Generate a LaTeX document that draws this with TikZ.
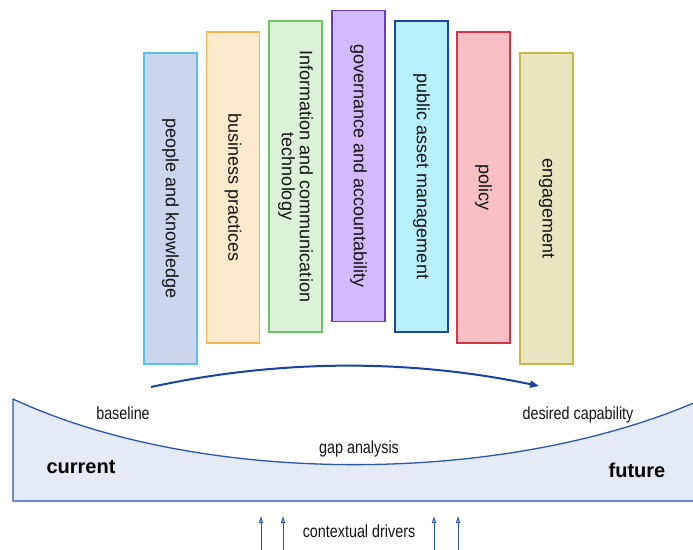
\documentclass[tikz,border=0pt]{standalone}
\usepackage{fontspec}
\setmainfont{Liberation Sans}
\newfontfamily\narrowfont[FakeStretch=0.82]{Liberation Sans}
\usetikzlibrary{arrows.meta}

% pillar colours (fill / border)
\definecolor{peopleFill}{HTML}{CBD6EE}\definecolor{peopleLine}{HTML}{5BC2E7}
\definecolor{businessFill}{HTML}{FDEACD}\definecolor{businessLine}{HTML}{F6B44E}
\definecolor{ictFill}{HTML}{DCF2D8}\definecolor{ictLine}{HTML}{6CC465}
\definecolor{govFill}{HTML}{D3BAFC}\definecolor{govLine}{HTML}{6A3CBF}
\definecolor{assetFill}{HTML}{B9F0FD}\definecolor{assetLine}{HTML}{1A46A6}
\definecolor{policyFill}{HTML}{F8C0C5}\definecolor{policyLine}{HTML}{D33545}
\definecolor{engageFill}{HTML}{E9E5C1}\definecolor{engageLine}{HTML}{C8B84A}
% base and arrows
\definecolor{baseFill}{HTML}{E4EBF6}
\definecolor{baseLine}{HTML}{2B55B3}
\definecolor{flowBlue}{HTML}{1A42A0}

\begin{document}
\begin{tikzpicture}[x=1bp, y=-1bp,
  pillar/.style={draw, line width=1.3bp, rotate=-90, inner sep=0pt,
    minimum width=311bp, minimum height=53bp, align=center,
    font=\fontsize{18bp}{18bp}\selectfont, text=black!92},
  lbl/.style={anchor=base, inner sep=0pt, text=black!92,
    font=\narrowfont\fontsize{17.5bp}{20bp}\selectfont},
  heavy/.style={anchor=base, inner sep=0pt, text=black,
    font=\bfseries\fontsize{20bp}{22bp}\selectfont},
  flow/.style={draw=flowBlue, line width=2bp,
    -{Triangle[length=9bp, width=7bp]}},
  driver/.style={draw=baseLine, line width=1bp,
    -{Triangle[open, length=7bp, width=4bp]}}
]
\useasboundingbox (0,0) rectangle (693,550);

% capability pillars
\node[pillar, fill=peopleFill, draw=peopleLine] (people) at (170.5,208.5) {people and knowledge};
\node[pillar, fill=businessFill, draw=businessLine] (business) at (233,187.5) {business practices};
\node[pillar, fill=ictFill, draw=ictLine] (ict) at (295.5,176.5) {Information and communication\\technology};
\node[pillar, fill=govFill, draw=govLine] (gov) at (358.5,166) {governance and accountability};
\node[pillar, fill=assetFill, draw=assetLine] (asset) at (421.5,176.5) {public asset management};
\node[pillar, fill=policyFill, draw=policyLine] (policy) at (483.5,187.5) {policy};
\node[pillar, fill=engageFill, draw=engageLine] (engage) at (546.5,208.5) {engagement};

% base with the gap curve
\fill[baseFill] (13,399) .. controls (200,486) and (500,486) .. (696,402)
  -- (696,501) -- (13,501) -- cycle;
\draw[baseLine, line width=1.3bp] (696,501) -- (13,501) -- (13,399)
  .. controls (200,486) and (500,486) .. (696,402);

% progression arrow
\coordinate (arcL) at (151,387);
\coordinate (arcR) at (539,386);
\draw[flow] (arcL) .. controls (280,359) and (410,359) .. (arcR);

% labels
\node[lbl] (baselbl) at (123,419) {baseline};
\node[lbl] (desired) at (578,419) {desired capability};
\node[lbl] (gap) at (359,453) {gap analysis};
\node[heavy] (current) at (81,473) {current};
\node[heavy] (future) at (637,477) {future};
\node[lbl] (drivers) at (359,537) {contextual drivers};

% contextual driver arrows
\foreach \i/\x in {1/261, 2/283, 3/434, 4/458} {
  \coordinate (drv\i s) at (\x,551);
  \coordinate (drv\i e) at (\x,516);
  \draw[driver] (drv\i s) -- (drv\i e);
}
\end{tikzpicture}
\end{document}
